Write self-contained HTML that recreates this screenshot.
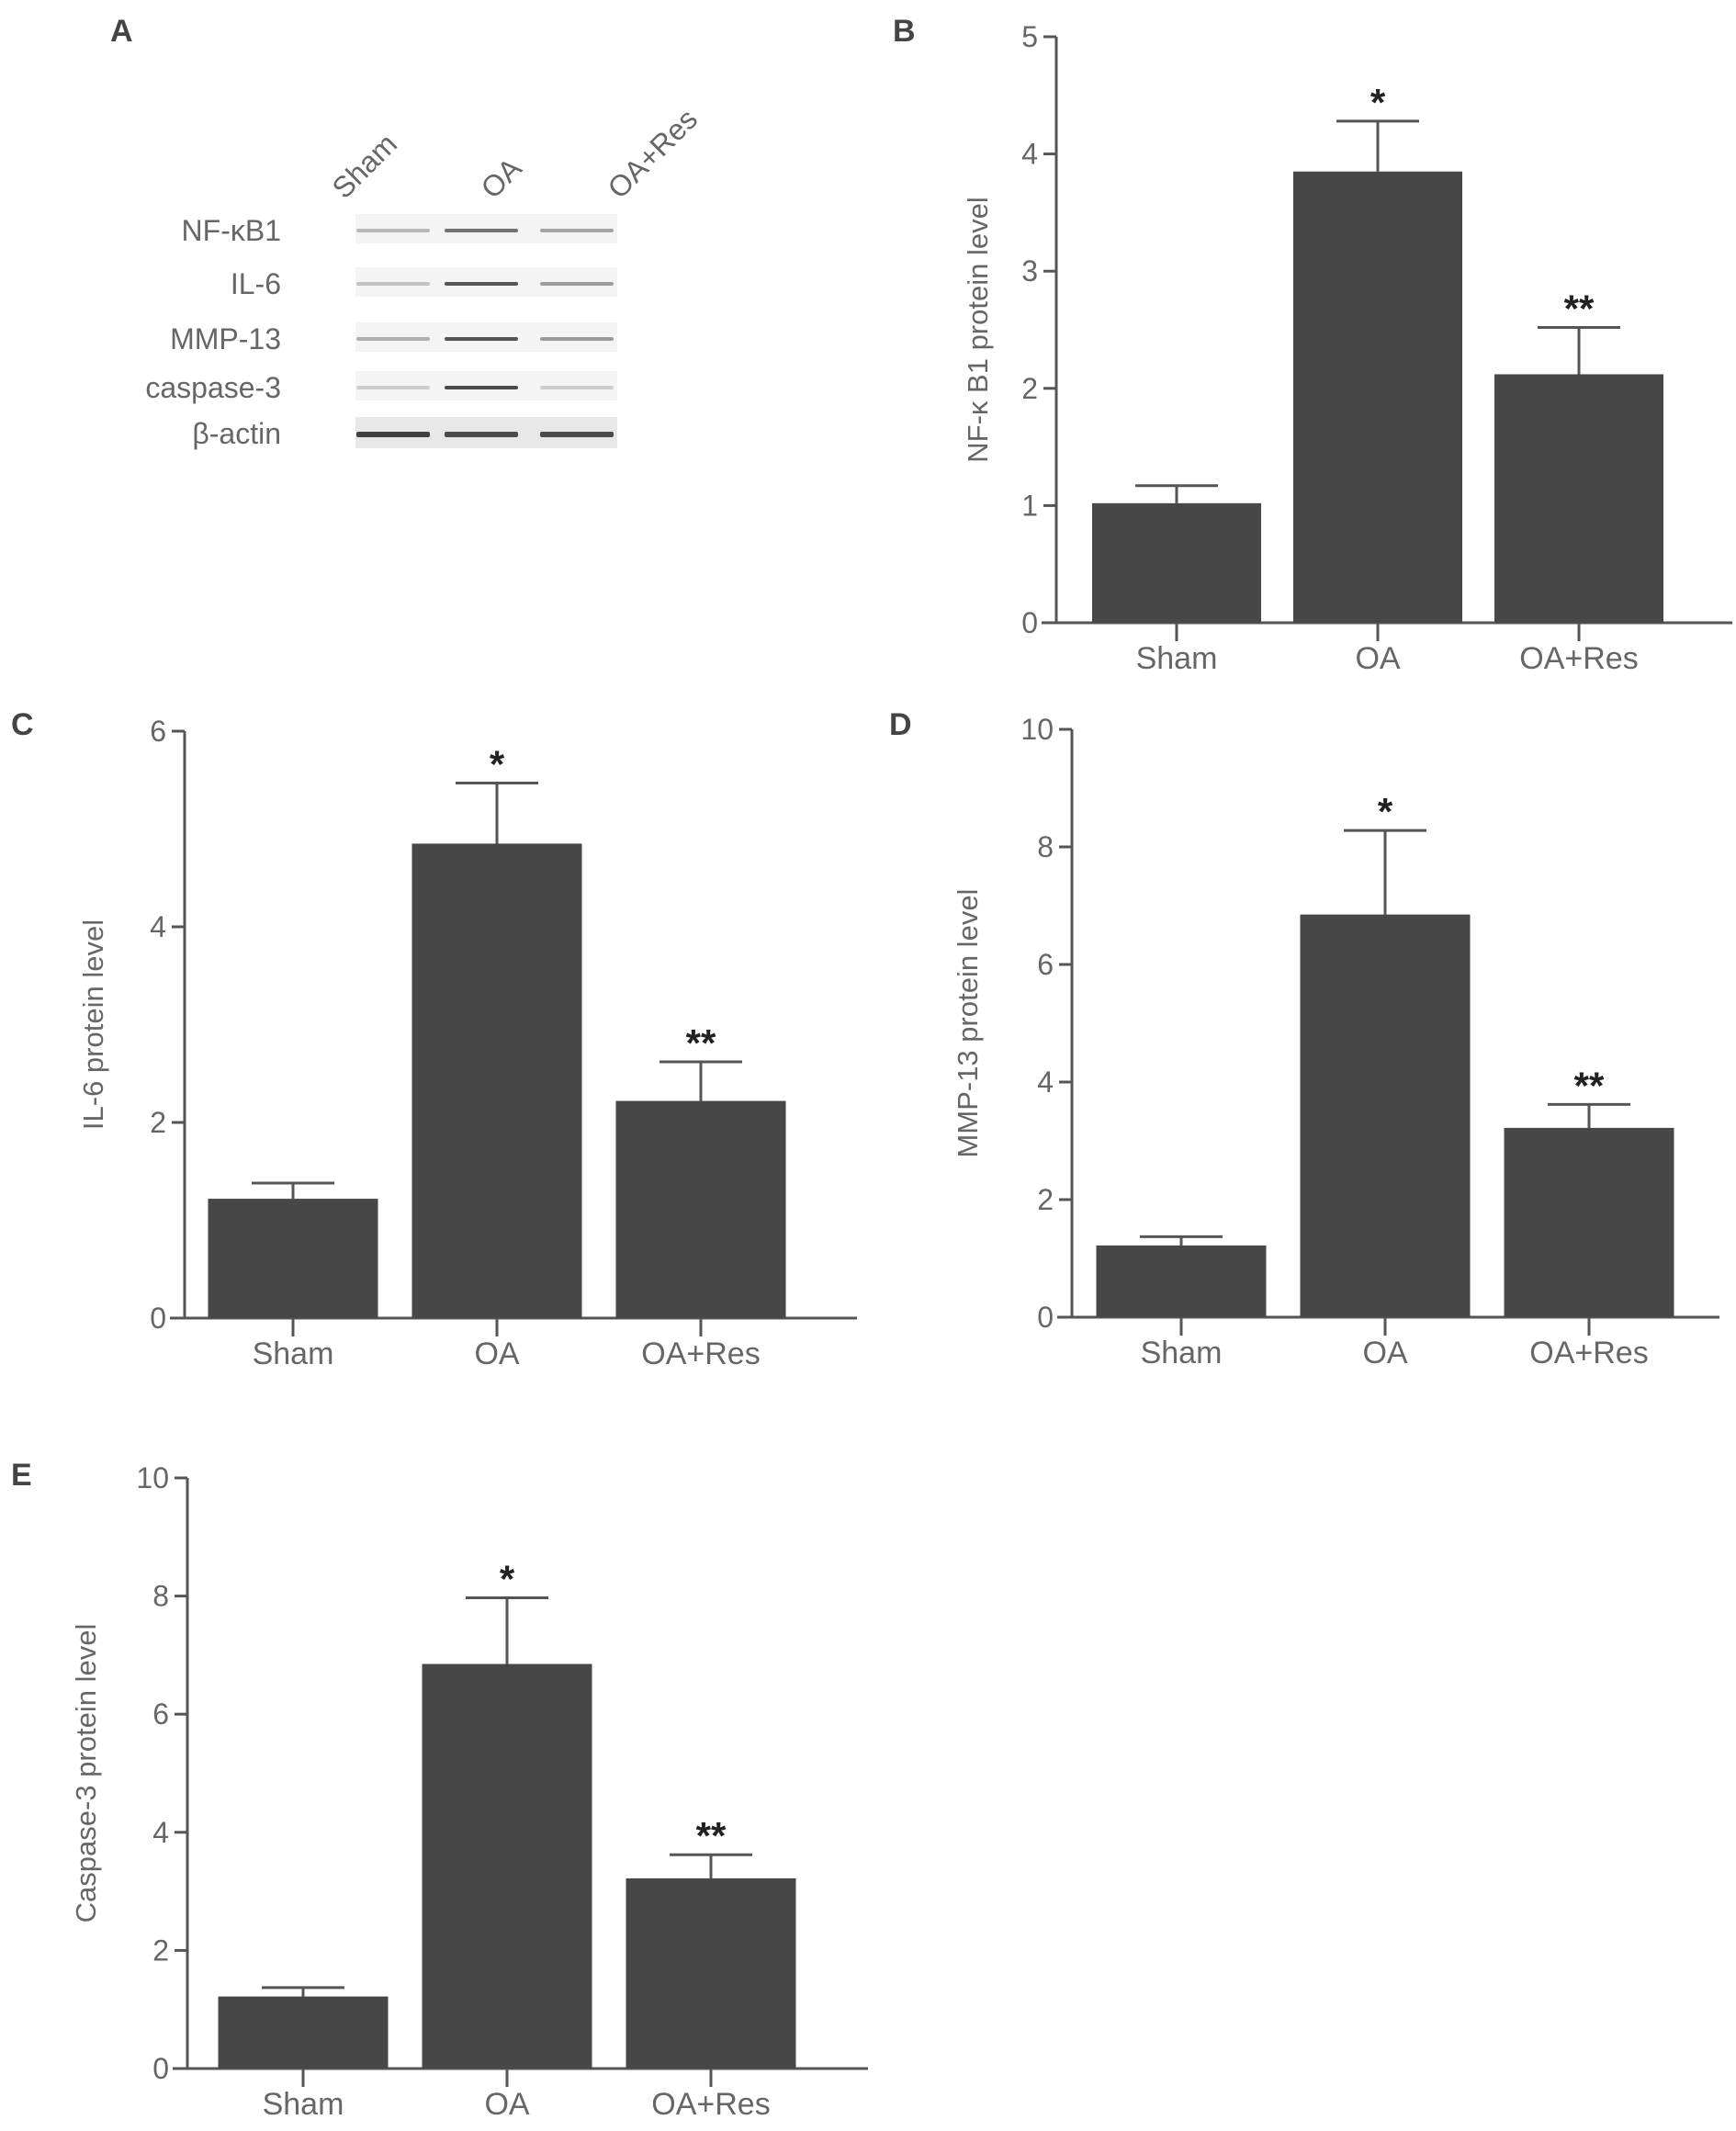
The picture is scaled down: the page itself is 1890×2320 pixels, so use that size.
<!DOCTYPE html>
<html><head><meta charset="utf-8"><style>
body{margin:0;background:#fff;}
svg{display:block;font-family:"Liberation Sans",sans-serif;}
</style></head><body>
<svg id="fig" width="1890" height="2320" viewBox="0 0 1890 2320">
<g>
<text x="120" y="45" font-size="34" font-weight="bold" fill="#444">A</text>
<text transform="translate(375,218) rotate(-45)" font-size="32" fill="#666">Sham</text>
<text transform="translate(537,218) rotate(-45)" font-size="32" fill="#666">OA</text>
<text transform="translate(675,218) rotate(-45)" font-size="32" fill="#666">OA+Res</text>
</g>
<g id="blot"></g>
<g id="charts"></g>
</svg>
<script>
const categories=["Sham","OA","OA+Res"];
const nfkbValues=[1.02,3.85,2.12];
const nfkbErrors=[0.15,0.43,0.40];
const il6Values=[1.22,4.85,2.22];
const il6Errors=[0.16,0.62,0.40];
const mmpValues=[1.22,6.85,3.22];
const mmpErrors=[0.15,1.43,0.40];
const caspValues=[1.22,6.85,3.22];
const caspErrors=[0.15,1.12,0.40];
const sigMarks=["","*","**"];
const ticksB=[0,1,2,3,4,5];
const ticksC=[0,2,4,6];
const ticksD=[0,2,4,6,8,10];
const ticksE=[0,2,4,6,8,10];
const blotLabels=["NF-κB1","IL-6","MMP-13","caspase-3","β-actin"];
const blotIntensity=[[0.25,0.6,0.35],[0.2,0.75,0.4],[0.3,0.75,0.4],[0.15,0.8,0.15],[0.85,0.8,0.8]];

const NS="http://www.w3.org/2000/svg";
function mk(tag,attrs,parent,txt){const e=document.createElementNS(NS,tag);for(const k in attrs)e.setAttribute(k,attrs[k]);if(txt!==undefined)e.textContent=txt;parent.appendChild(e);return e;}

const blot=document.getElementById('blot');
const rowY=[251,309,369,422,472];
const laneX=[428,524,628];
blotLabels.forEach((lab,i)=>{
  const t=mk('text',{x:306,y:rowY[i]+11,'font-size':32,fill:'#666','text-anchor':'end'},blot,lab);
  
  
  const bg=mk('rect',{x:387,y:rowY[i]-18,width:285,height:i==4?34:32,fill:i==4?'#e8e8e8':'#f4f4f4'},blot);
  
  
  blotIntensity[i].forEach((v,j)=>{
    const c=Math.round(235-200*v);
    const b=mk('rect',{x:laneX[j]-40,y:rowY[i]-2,width:80,height:i==4?6:4,rx:2,fill:`rgb(${c},${c},${c})`},blot);
    
    
  });
});

const charts=document.getElementById('charts');
function chart(o){
  const g=mk('g',{},charts);
  
  
  const ymax=o.ticks[o.ticks.length-1];
  const y=v=>o.y0-(v/ymax)*(o.y0-o.top);
  const L=mk('text',{x:o.lx,y:o.ly,'font-size':34,'font-weight':'bold',fill:'#444'},g,o.letter);
  
  
  const ya=mk('line',{x1:o.ax,y1:o.top,x2:o.ax,y2:o.y0,stroke:'#555','stroke-width':3},g);
  
  
  const xa=mk('line',{x1:o.ax-16,y1:o.y0,x2:o.xend,y2:o.y0,stroke:'#555','stroke-width':3},g);
  
  
  o.ticks.forEach(t=>{
    const tl=mk('line',{x1:o.ax-14,y1:y(t),x2:o.ax,y2:y(t),stroke:'#555','stroke-width':3},g);
    
    
    const tt=mk('text',{x:o.ax-20,y:y(t)+11,'font-size':32,fill:'#666','text-anchor':'end'},g,String(t));
    
    
  });
  const yt=mk('text',{transform:`translate(${o.tx},${(o.top+o.y0)/2}) rotate(-90)`,'font-size':31,fill:'#666','text-anchor':'middle'},g,o.title);
  
  
  const step=o.step, bw=o.bw;
  categories.forEach((c,i)=>{
    const cx=o.first+step*i;
    const v=o.values[i], e=o.errors[i];
    const bar=mk('rect',{x:cx-bw/2,y:y(v),width:bw,height:o.y0-y(v),fill:'#474747'},g);
    
    
    const el=mk('line',{x1:cx,y1:y(v),x2:cx,y2:y(v+e),stroke:'#555','stroke-width':3},g);
    
    
    const ec=mk('line',{x1:cx-45,y1:y(v+e),x2:cx+45,y2:y(v+e),stroke:'#555','stroke-width':3},g);
    
    
    if(sigMarks[i]){
      const s=mk('text',{x:cx,y:y(v+e)-6,'font-size':42,'font-weight':'bold',fill:'#222','text-anchor':'middle'},g,sigMarks[i]);
      
      
    }
    const xt=mk('line',{x1:cx,y1:o.y0,x2:cx,y2:o.y0+20,stroke:'#555','stroke-width':3},g);
    
    
    const xl=mk('text',{x:cx,y:o.y0+50,'font-size':34,fill:'#666','text-anchor':'middle'},g,c);
    
    
  });
}
chart({name:'chart-b-nfkb1',letter:'B',lx:972,ly:45,ax:1150,top:40,y0:678,xend:1886,ticks:ticksB,values:nfkbValues,errors:nfkbErrors,first:1281,step:219,bw:184,tx:1075,title:'NF-κ  B1 protein level'});
chart({name:'chart-c-il6',letter:'C',lx:12,ly:800,ax:201,top:796,y0:1435,xend:933,ticks:ticksC,values:il6Values,errors:il6Errors,first:319,step:222,bw:185,tx:112,title:'IL-6 protein level'});
chart({name:'chart-d-mmp13',letter:'D',lx:968,ly:800,ax:1167,top:794,y0:1434,xend:1872,ticks:ticksD,values:mmpValues,errors:mmpErrors,first:1286,step:222,bw:185,tx:1064,title:'MMP-13 protein level'});
chart({name:'chart-e-caspase3',letter:'E',lx:12,ly:1617,ax:204,top:1609,y0:2252,xend:945,ticks:ticksE,values:caspValues,errors:caspErrors,first:330,step:222,bw:185,tx:104,title:'Caspase-3 protein level'});
</script>
</body></html>
